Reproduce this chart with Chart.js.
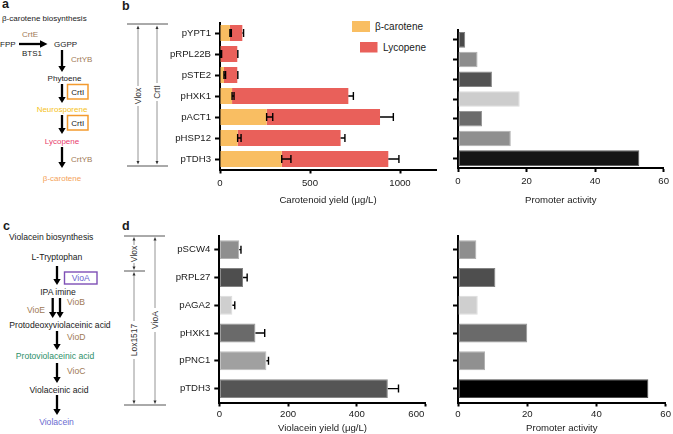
<!DOCTYPE html>
<html><head><meta charset="utf-8">
<script src="https://cdn.jsdelivr.net/npm/chart.js@4/dist/chart.umd.min.js"></script>
<style>
html,body{margin:0;padding:0;background:#fff;width:673px;height:434px;overflow:hidden;}
#wrap{position:relative;width:673px;height:434px;}
canvas{position:absolute;}
svg{position:absolute;left:0;top:0;}
</style></head><body>
<div id="wrap">
<svg id="ann" width="673" height="434"></svg>
<canvas id="cB1" width="310" height="205" style="left:130px;top:10px"></canvas>
<canvas id="cB2" width="233" height="205" style="left:440px;top:10px"></canvas>
<canvas id="cD1" width="315" height="208" style="left:130px;top:226px"></canvas>
<canvas id="cD2" width="233" height="208" style="left:440px;top:226px"></canvas>
</div>
<script>
// ---------------- data ----------------
const carotenoidPromoters = ['pYPT1','pRPL22B','pSTE2','pHXK1','pACT1','pHSP12','pTDH3'];
const betaCarotene        = [55, 4, 22, 67, 259, 98, 343];
const betaCaroteneErr     = [8, 5, 9, 11, 34, 19, 51];
const lycopene            = [69, 92, 74, 646, 630, 572, 592];
const totalCarotenoidErr  = [7, 3, 3, 28, 74, 24, 59];
const carotenoidActivity  = [2.1, 5.7, 9.9, 18.0, 7.0, 15.4, 52.9];

const violaceinPromoters  = ['pSCW4','pRPL27','pAGA2','pHXK1','pPNC1','pTDH3'];
const violaceinYield      = [58, 69, 38, 105, 137, 490];
const violaceinYieldErr   = [5, 12, 7, 27, 6, 31];
const violaceinActivity   = [5.3, 10.8, 5.7, 20.0, 7.8, 55.0];

const carotenoidTicks = [0, 500, 1000];
const violaceinTicks  = [0, 200, 400, 600];
const activityTicks   = [0, 20, 40, 60];

// ---------------- styles ----------------
const betaColor = '#f9be62';
const lycColor  = '#e9605a';
const carotenoidActivityShades = ['#4a4a4a','#8c8c8c','#525252','#cdcdcd','#6c6c6c','#8f8f8f','#161616'];
const violaceinYieldShades     = ['#8e8e8e','#4e4e4e','#cfcfcf','#6a6a6a','#a0a0a0','#555555'];
const violaceinActivityShades  = ['#8e8e8e','#4e4e4e','#cfcfcf','#6a6a6a','#909090','#000000'];

function lighten(hex, a){
  const n = parseInt(hex.slice(1),16);
  const r=(n>>16)&255, g=(n>>8)&255, b=n&255;
  const f=v=>Math.round(v+(255-v)*a);
  return `rgb(${f(r)},${f(g)},${f(b)})`;
}

Chart.defaults.font.family = "'Liberation Sans', Arial, Helvetica, sans-serif";
Chart.defaults.font.size = 9.6;
Chart.defaults.color = '#1a1a1a';

const errorBarPlugin = {
  id: 'errorBars',
  afterDatasetsDraw(chart){
    const ctx = chart.ctx, xs = chart.scales.x;
    chart.data.datasets.forEach((ds, di) => {
      if (!ds.errors) return;
      const meta = chart.getDatasetMeta(di);
      meta.data.forEach((bar, i) => {
        const endVal = xs.getValueForPixel(bar.x);
        const xe = xs.getPixelForValue(endVal + ds.errors[i]);
        const y = bar.y;
        ctx.save();
        ctx.strokeStyle = '#000'; ctx.lineWidth = 1.4;
        ctx.beginPath();
        ctx.moveTo(bar.x, y); ctx.lineTo(xe, y);
        ctx.moveTo(xe, y-4); ctx.lineTo(xe, y+4);
        if (ds.startCap){ ctx.moveTo(bar.x, y-4); ctx.lineTo(bar.x, y+4); }
        ctx.stroke();
        ctx.restore();
      });
    });
  }
};

function xScale(max, ticks, title, height, titlePad, tickPad, labelFn){
  return {
    type:'linear', min:0, max:max, stacked:true,
    afterBuildTicks: s => { s.ticks = ticks.map(v => ({value:v})); },
    ticks:{ color:'#1a1a1a', padding:tickPad, maxRotation:0, autoSkip:false,
            callback: labelFn || (v => String(v)) },
    grid:{ drawOnChartArea:false, drawTicks:true, tickLength:4, tickWidth:2, tickColor:'#000' },
    border:{ display:true, color:'#000', width:2 },
    title:{ display:true, text:title, color:'#1a1a1a', font:{size:9.6}, padding:{top:0,bottom:titlePad} },
    afterFit: s => { s.height = height; }
  };
}
function yScale(width, showLabels){
  return {
    type:'category', stacked:true, offset:true,
    ticks:{ color:'#1a1a1a', padding:4, autoSkip:false,
            callback: function(v){ return showLabels ? this.getLabelForValue(v) : ''; } },
    grid:{ drawOnChartArea:false, drawTicks:true, tickLength:5, tickWidth:2, tickColor:'#000', offset:false },
    border:{ display:true, color:'#000', width:2 },
    afterFit: s => { s.width = width; }
  };
}
function baseOptions(pad, scales){
  return {
    indexAxis:'y', responsive:false, animation:false, devicePixelRatio:1,
    layout:{ padding:pad },
    plugins:{ legend:{display:false}, tooltip:{enabled:false} },
    scales: scales
  };
}

// b-left: carotenoid yield
new Chart(document.getElementById('cB1'), {
  type:'bar',
  data:{ labels:carotenoidPromoters, datasets:[
    { label:'β-carotene', data:betaCarotene, backgroundColor:betaColor, errors:betaCaroteneErr, startCap:true,
      barPercentage:0.76, categoryPercentage:1 },
    { label:'Lycopene', data:lycopene, backgroundColor:lycColor, errors:totalCarotenoidErr,
      barPercentage:0.76, categoryPercentage:1 }
  ]},
  options: baseOptions({left:0,right:4,top:12.5,bottom:0},
     { x: xScale(1200, carotenoidTicks, 'Carotenoid yield (μg/L)', 45.5, 9.2, 4), y: yScale(90, true) }),
  plugins:[errorBarPlugin]
});

// b-right: promoter activity
new Chart(document.getElementById('cB2'), {
  type:'bar',
  data:{ labels:carotenoidPromoters, datasets:[
    { label:'Promoter activity', data:carotenoidActivity, backgroundColor:carotenoidActivityShades,
      borderColor:carotenoidActivityShades.map(c=>lighten(c,0.3)), borderWidth:1, borderSkipped:false,
      barPercentage:0.79, categoryPercentage:1 }
  ]},
  options: baseOptions({left:0,right:7,top:20,bottom:0},
     { x: xScale(60, activityTicks, 'Promoter activity', 47, 9.2, 4), y: yScale(18, false) })
});

// d-left: violacein yield
new Chart(document.getElementById('cD1'), {
  type:'bar',
  data:{ labels:violaceinPromoters, datasets:[
    { label:'Violacein yield', data:violaceinYield, backgroundColor:violaceinYieldShades,
      borderColor:violaceinYieldShades.map(c=>lighten(c,0.3)), borderWidth:1, borderSkipped:false,
      errors:violaceinYieldErr, barPercentage:0.68, categoryPercentage:1 }
  ]},
  options: baseOptions({left:0,right:6.2,top:8.5,bottom:0},
     { x: xScale(600, violaceinTicks, 'Violacein yield (μg/L)', 31.5, 0, 2,
                 v => v === 600 ? '600       ' : String(v)), y: yScale(89.3, true) }),
  plugins:[errorBarPlugin]
});

// d-right: promoter activity
new Chart(document.getElementById('cD2'), {
  type:'bar',
  data:{ labels:violaceinPromoters, datasets:[
    { label:'Promoter activity', data:violaceinActivity, backgroundColor:violaceinActivityShades,
      borderColor:violaceinActivityShades.map(c=>lighten(c,0.3)), borderWidth:1, borderSkipped:false,
      barPercentage:0.68, categoryPercentage:1 }
  ]},
  options: baseOptions({left:0,right:6,top:7,bottom:0},
     { x: xScale(60, activityTicks, 'Promoter activity', 31.5, 0, 2), y: yScale(18, false) })
});

// ---------------- annotation / pathway panels (SVG) ----------------
const svg = document.getElementById('ann');
const NS = 'http://www.w3.org/2000/svg';
const FONT = "'Liberation Sans', Arial, Helvetica, sans-serif";
function el(tag, attrs, text){
  const e = document.createElementNS(NS, tag);
  for (const k in attrs) e.setAttribute(k, attrs[k]);
  if (text != null) e.textContent = text;
  svg.appendChild(e); return e;
}
function txt(x, y, s, o={}){
  const a = { x, y, 'font-size':o.size||8, fill:o.color||'#1a1a1a', 'text-anchor':o.anchor||'start',
    'font-family':FONT, 'font-weight':o.weight||'normal' };
  if (!o.base) a['dominant-baseline'] = 'central';
  if (o.rot) a.transform = `rotate(-90 ${x} ${y})`;
  return el('text', a, s);
}
function line(x1,y1,x2,y2,c,w){ el('line',{x1,y1,x2,y2,stroke:c||'#000','stroke-width':w||1}); }
function downArrow(x, y1, y2){
  line(x, y1, x, y2-5, '#000', 2.3);
  el('polygon',{points:`${x-3.7},${y2-6} ${x+3.7},${y2-6} ${x},${y2}`, fill:'#000'});
}
function thinArrow(x, y1, y2, gapA, gapB){ // vertical double-headed arrow, broken by label
  const c = '#7a7a7a';
  line(x, y1+2, x, gapA, c, 0.8);
  line(x, gapB, x, y2-2, c, 0.8);
  el('polygon',{points:`${x-1.5},${y1+3.5} ${x+1.5},${y1+3.5} ${x},${y1}`, fill:'#333'});
  el('polygon',{points:`${x-1.5},${y2-3.5} ${x+1.5},${y2-3.5} ${x},${y2}`, fill:'#333'});
}
const brown = '#a07a55';

// panel letters
txt(2, 8, 'a', {size:12.5, weight:'bold', base:true});
txt(122, 10, 'b', {size:12.5, weight:'bold', base:true});
txt(3, 230, 'c', {size:12.5, weight:'bold', base:true});
txt(122, 229.5, 'd', {size:12.5, weight:'bold', base:true});

// panel a
txt(2, 18, 'β-carotene biosynthesis');
txt(0, 44, 'FPP');
line(19, 44, 41, 44, '#000', 2.3);
el('polygon',{points:'40,40.2 40,47.8 47.5,44', fill:'#000'});
txt(22, 34.5, 'CrtE', {color:brown});
txt(22, 53, 'BTS1');
txt(65.5, 44, 'GGPP', {anchor:'middle'});
downArrow(62, 50, 72);
txt(71, 59, 'CrtYB', {color:brown});
txt(64.5, 78, 'Phytoene', {anchor:'middle'});
downArrow(62, 84, 103);
el('rect',{x:67.5, y:84.5, width:20.5, height:14.5, fill:'none', stroke:'#f39a2e', 'stroke-width':1.5});
txt(77.7, 92, 'CrtI', {anchor:'middle'});
txt(62, 109, 'Neurosporene', {anchor:'middle', color:'#f5c21b'});
downArrow(62, 115, 134);
el('rect',{x:67.5, y:115.5, width:20.5, height:14.5, fill:'none', stroke:'#f39a2e', 'stroke-width':1.5});
txt(77.7, 123, 'CrtI', {anchor:'middle'});
txt(62, 141, 'Lycopene', {anchor:'middle', color:'#e8406e'});
downArrow(62, 147, 168);
txt(71, 159, 'CrtYB', {color:brown});
txt(62, 178, 'β-carotene', {anchor:'middle', color:'#f4a259'});

// panel c
const cs = 8.6;
txt(9, 237, 'Violacein biosynthesis', {size:cs});
txt(57, 257.3, 'L-Tryptophan', {anchor:'middle', size:cs});
downArrow(57, 266, 285);
el('rect',{x:64.5, y:272, width:32.5, height:12, fill:'none', stroke:'#7e4fb6', 'stroke-width':1.4});
txt(80.7, 278.2, 'VioA', {anchor:'middle', size:cs, color:'#6a5fd0'});
txt(58, 292, 'IPA imine', {anchor:'middle', size:cs});
downArrow(52.7, 298, 318);
downArrow(60, 298, 318);
txt(67, 302, 'VioB', {size:cs, color:brown});
txt(27, 310, 'VioE', {size:cs, color:brown});
txt(60, 324.7, 'Protodeoxyviolaceinic acid', {anchor:'middle', size:cs});
downArrow(57, 331, 350);
txt(67, 337, 'VioD', {size:cs, color:brown});
txt(55, 356, 'Protoviolaceinic acid', {anchor:'middle', size:cs, color:'#2e8f69'});
downArrow(57, 363, 383);
txt(67, 371, 'VioC', {size:cs, color:brown});
txt(59, 390, 'Violaceinic acid', {anchor:'middle', size:cs});
downArrow(57, 395, 415);
txt(56.5, 422, 'Violacein', {anchor:'middle', size:cs, color:'#6a6ad0'});

// panel b annotations
line(127, 24, 168, 24, '#555', 1);
line(127, 166, 168, 166, '#555', 1);
thinArrow(138, 25.5, 164.5, 86, 106);
txt(138, 96, 'Vlox', {rot:true, anchor:'middle', size:8.5, color:'#333'});
thinArrow(157, 25.5, 164.5, 83, 101);
txt(157, 92, 'CrtI', {rot:true, anchor:'middle', size:8.5, color:'#333'});

// legend b
el('rect',{x:352, y:21, width:18, height:11, fill:betaColor});
txt(375, 26.5, 'β-carotene', {size:10});
el('rect',{x:360, y:42, width:17.5, height:10.5, fill:lycColor});
txt(383, 47.3, 'Lycopene', {size:10});

// panel d annotations
line(124, 236, 165, 236, '#555', 1);
line(124, 271, 145, 271, '#555', 1);
line(124, 405, 166, 405, '#555', 1);
thinArrow(134, 237, 270, 245, 263);
txt(134, 254, 'Vlox', {rot:true, anchor:'middle', size:8.5, color:'#333'});
thinArrow(134, 272, 404, 321, 359);
txt(134, 340, 'Lox1517', {rot:true, anchor:'middle', size:8.5, color:'#333'});
thinArrow(155, 237, 404, 308, 332);
txt(155, 320, 'VioA', {rot:true, anchor:'middle', size:8.5, color:'#333'});
</script>
</body></html>
